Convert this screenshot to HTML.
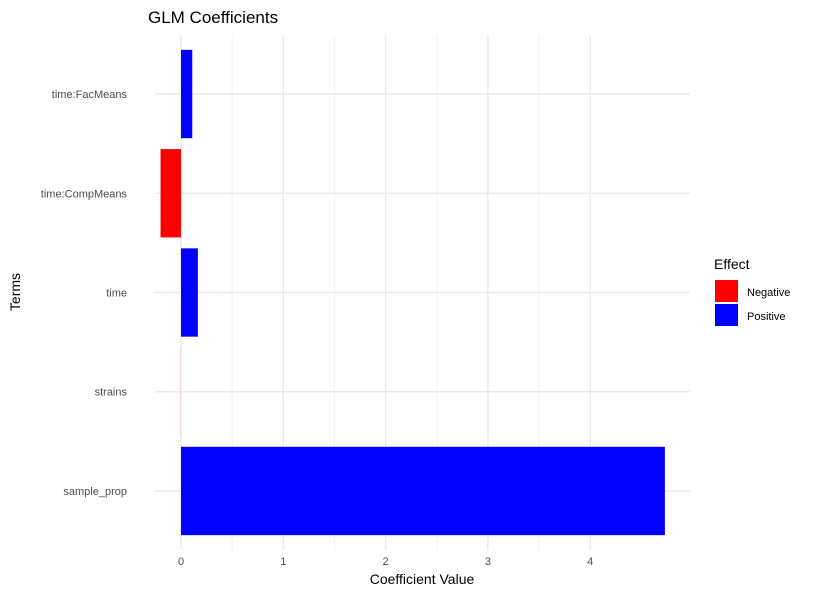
<!DOCTYPE html>
<html><head><meta charset="utf-8"><style>
body{margin:0;background:#fff;font-family:"Liberation Sans",sans-serif}
svg text{font-family:"Liberation Sans",sans-serif}
</style></head><body>
<svg id="c" width="814" height="596"></svg>
<script>
const terms=["sample_prop","strains","time","time:CompMeans","time:FacMeans"];
const values=[4.73,-0.001,0.165,-0.2,0.11];
const xTicks=[0,1,2,3,4];
const NS="http://www.w3.org/2000/svg";
const svg=document.getElementById('c');
const x0=181, pxPerUnit=102.3;
const X=v=>x0+v*pxPerUnit;
const panelTop=44.4, panelBottom=540.6, panelLeft=155, panelRight=690;
const band=(panelBottom-panelTop)/terms.length;
const Y=i=>panelBottom-band*(i+0.5);
function el(t,a,p){const e=document.createElementNS(NS,t);for(const k in a)e.setAttribute(k,a[k]);(p||svg).appendChild(e);return e;}
const grid=el('g',{});


for(let i=0;i<xTicks.length-1;i++){const m=(xTicks[i]+xTicks[i+1])/2;el('line',{x1:X(m),x2:X(m),y1:35,y2:550,stroke:'#f2f2f2','stroke-width':1},grid);}
xTicks.forEach(t=>el('line',{x1:X(t),x2:X(t),y1:35,y2:550,stroke:'#ebebeb','stroke-width':1.5},grid));
terms.forEach((t,i)=>el('line',{x1:panelLeft,x2:panelRight,y1:Y(i),y2:Y(i),stroke:'#ebebeb','stroke-width':1.5},grid));
terms.forEach((t,i)=>{
 const v=values[i];const a=Math.min(X(0),X(v)),b=Math.max(X(0),X(v));
 const r=el('rect',{x:a,y:Y(i)-band*0.445,width:b-a,height:band*0.89,fill:v<0?'#ff0000':'#0000ff'});
 
 
 const l=el('text',{x:panelLeft-28,y:Y(i)+4,'text-anchor':'end','font-size':11,fill:'#4d4d4d'});
 l.textContent=t;
 
 
});
xTicks.forEach(t=>{const l=el('text',{x:X(t),y:565,'text-anchor':'middle','font-size':11,fill:'#4d4d4d'});l.textContent=t;
 
 });
const xt=el('text',{x:422,y:584,'text-anchor':'middle','font-size':14,fill:'#000'});xt.textContent='Coefficient Value';


const yt=el('text',{x:20,y:292,'text-anchor':'middle','font-size':14,fill:'#000',transform:'rotate(-90 20 292)'});yt.textContent='Terms';


const ti=el('text',{x:148,y:23,'font-size':17,fill:'#000'});ti.textContent='GLM Coefficients';


const lg=el('g',{});


const lt=el('text',{x:714,y:269,'font-size':14,fill:'#000'},lg);lt.textContent='Effect';
[['Negative','#ff0000'],['Positive','#0000ff']].forEach((d,i)=>{
 el('rect',{x:715,y:280+i*24,width:23,height:22,fill:d[1]},lg);
 const t=el('text',{x:747,y:296+i*24,'font-size':11,fill:'#000'},lg);t.textContent=d[0];
 
 
});
</script>
</body></html>
